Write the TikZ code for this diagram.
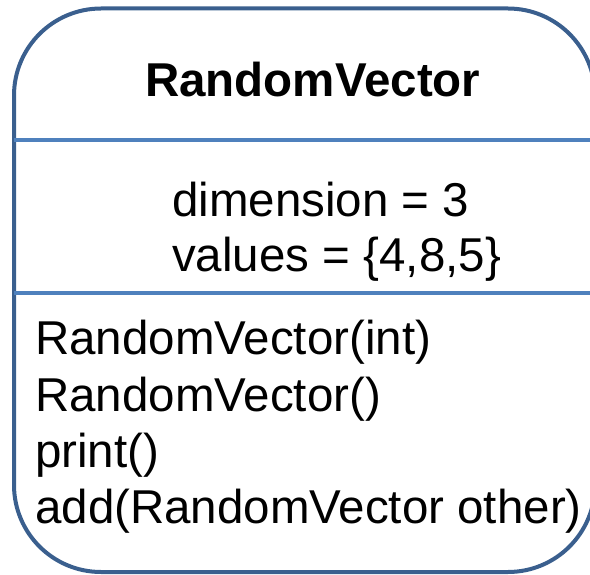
\documentclass[tikz,border=0pt]{standalone}
\usepackage{fontspec}
\setmainfont{Liberation Sans}
\definecolor{outerblue}{HTML}{3A5F8E}
\definecolor{divblue}{HTML}{4F81BD}
\tikzset{
  txt/.style={anchor=base west, inner sep=0pt, font=\fontsize{47.5}{55}\selectfont},
  ttl/.style={txt, font=\fontsize{47.5}{55}\selectfont\bfseries},
  divider/.style={draw=divblue, line width=4pt},
  outer/.style={draw=outerblue, line width=4pt, rounded corners=87pt}
}
\begin{document}
\begin{tikzpicture}[x=1pt,y=-1pt]
\useasboundingbox (0,0) rectangle (590,575);
\draw[outer] (14,8.5) rectangle (595,572);
\draw[divider] (14,140) -- (595,140);
\draw[divider] (14,293) -- (595,293);
\node[ttl] (title) at (145,97) {RandomVector};
\node[txt] (a1) at (172,216.5) {dimension = 3};
\node[txt] (a2) at (172,271.5) {values = \{4,8,5\}};
\node[txt] (m1) at (35,355) {RandomVector(int)};
\node[txt] (m2) at (35,411) {RandomVector()};
\node[txt] (m3) at (35,467) {print()};
\node[txt] (m4) at (35,523) {add(RandomVector other)};
\end{tikzpicture}
\end{document}
